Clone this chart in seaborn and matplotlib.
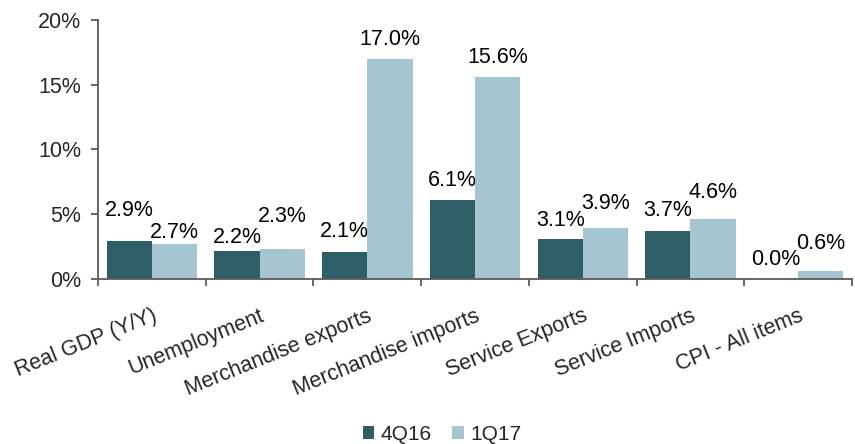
import matplotlib
matplotlib.use("Agg")
import matplotlib.pyplot as plt
import seaborn as sns
import pandas as pd
from matplotlib.ticker import FuncFormatter, FixedLocator

categories = ["Real GDP (Y/Y)", "Unemployment", "Merchandise exports",
              "Merchandise imports", "Service Exports", "Service Imports",
              "CPI - All items"]
series_names = ["4Q16", "1Q17"]
values_4q16 = [2.9, 2.2, 2.1, 6.1, 3.1, 3.7, 0.0]
values_1q17 = [2.7, 2.3, 17.0, 15.6, 3.9, 4.6, 0.6]

# label offsets (points) from bar tops to label centres (manually placed labels)
offsets_4q16 = [24, 11, 16.5, 16, 15, 16.5, 16]
offsets_1q17 = [10, 25, 16, 16, 19.5, 21, 21.5]

df = pd.DataFrame({
    "category": categories * 2,
    "series": [series_names[0]] * len(categories) + [series_names[1]] * len(categories),
    "value": values_4q16 + values_1q17,
})

sns.set_style("white")
plt.rcParams["font.family"] = ["Liberation Sans", "DejaVu Sans"]
FS = 15.5

fig = plt.figure(figsize=(8.55, 4.44), dpi=100)
ax = fig.add_axes([0.1146, 0.3716, 0.882, 0.5834])

colors = ["#2E5F68", "#A5C5D0"]
sns.barplot(data=df, x="category", y="value", hue="series", palette=colors,
            width=0.84, ax=ax, saturation=1, legend=True, linewidth=0)

ax.set_ylim(0, 20)
ax.set_xlim(-0.5, len(categories) - 0.5)
ax.yaxis.set_major_locator(FixedLocator([0, 5, 10, 15, 20]))
ax.yaxis.set_major_formatter(FuncFormatter(lambda v, p: f"{v:.0f}%"))
ax.set_xlabel("")
ax.set_ylabel("")

all_offsets = [offsets_4q16, offsets_1q17]
for k, cont in enumerate(ax.containers[:2]):
    offs = all_offsets[k]
    for i, bar in enumerate(cont.patches):
        h = bar.get_height()
        ax.annotate(f"{h:.1f}%", (bar.get_x() + bar.get_width() / 2, h),
                    xytext=(0, offs[i]), textcoords="offset points",
                    ha="center", va="center_baseline", fontsize=FS, color="#000000")

for s in ["top", "right"]:
    ax.spines[s].set_visible(False)
for s in ["left", "bottom"]:
    ax.spines[s].set_color("#5a5a5a")
    ax.spines[s].set_linewidth(1.3)

ax.tick_params(axis="y", which="major", direction="out", length=5, width=1.3,
               color="#5a5a5a", labelsize=FS, pad=7, left=True)
ax.tick_params(axis="x", which="major", length=0, labelsize=FS, pad=19)
ax.set_xticks(range(len(categories)))
ax.set_xticklabels(categories, rotation=22, ha="right", rotation_mode="anchor")
ax.set_xticks([i - 0.5 for i in range(len(categories) + 1)], minor=True)
ax.tick_params(axis="x", which="minor", direction="out", length=5, width=1.3,
               color="#5a5a5a", bottom=True)

leg = ax.get_legend()
if leg is not None:
    leg.remove()
handles, labels = ax.get_legend_handles_labels()
fig.legend(handles, labels, loc="center", bbox_to_anchor=(0.517, 0.022),
           ncol=2, frameon=False, fontsize=15, handlelength=0.55,
           handleheight=0.55, handletextpad=0.3, columnspacing=1.0,
           borderaxespad=0, borderpad=0)

fig.savefig("out.png", dpi=100)
